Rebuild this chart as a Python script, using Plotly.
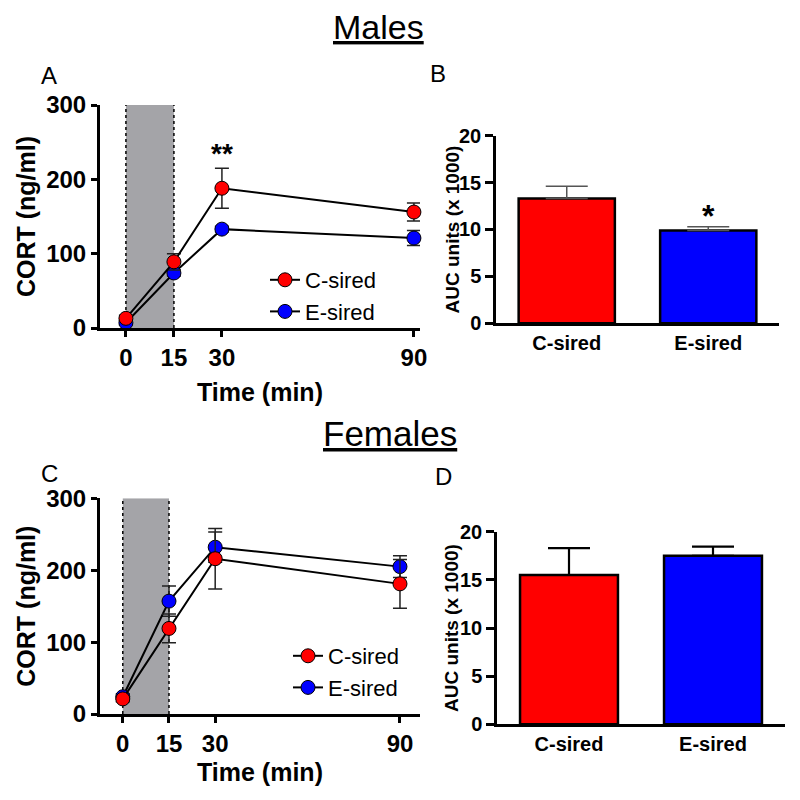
import plotly.graph_objects as go

# ---- data ----
time_min = [0, 15, 30, 90]
time_ticks = ["0", "15", "30", "90"]

male_c_mean = [13, 89, 188, 156]
male_c_sem = [4, 11, 27, 12]
male_e_mean = [7, 74, 133, 121]
male_e_sem = [3, 4, 4, 10]

female_c_mean = [21, 119, 216, 181]
female_c_sem = [4, 20, 42, 34]
female_e_mean = [24, 157, 232, 205]
female_e_sem = [4, 21, 21, 15]

groups = ["C-sired", "E-sired"]
male_auc = [13.3, 9.9]
male_auc_sem = [1.3, 0.4]
female_auc = [15.5, 17.5]
female_auc_sem = [2.8, 0.95]

stress_window = [0, 15]

FONT = "Liberation Sans, Arial, sans-serif"
RED = "#ff0000"
BLUE = "#0000ff"

fig = go.Figure()


def line_traces(xa, ya, c_mean, c_sem, e_mean, e_sem, legend):
    # E-sired first so C-sired sits on top
    for name, mean, sem, col, rank in [
        ("E-sired", e_mean, e_sem, BLUE, 2),
        ("C-sired", c_mean, c_sem, RED, 1),
    ]:
        fig.add_trace(go.Scatter(
            x=time_min, y=mean, name=name, mode="lines+markers",
            xaxis=xa, yaxis=ya, legend=legend, legendrank=rank,
            line=dict(color="black", width=2),
            marker=dict(color=col, size=14, line=dict(color="black", width=1)),
            error_y=dict(type="data", array=sem, visible=True,
                         color="#222222", thickness=1.5, width=7),
            cliponaxis=False,
        ))


def bar_traces(xa, ya, vals, sems, errcol, errw):
    fig.add_trace(go.Bar(
        x=groups, y=vals, xaxis=xa, yaxis=ya, showlegend=False,
        width=0.68,
        marker=dict(color=[RED, BLUE], line=dict(color="black", width=2.5)),
        error_y=dict(type="data", array=sems, arrayminus=[0, 0],
                     symmetric=False, visible=True,
                     color=errcol, thickness=errw, width=21),
    ))


line_traces("x", "y", male_c_mean, male_c_sem, male_e_mean, male_e_sem, "legend")
bar_traces("x2", "y2", male_auc, male_auc_sem, "#555555", 1.5)
line_traces("x3", "y3", female_c_mean, female_c_sem, female_e_mean, female_e_sem, "legend2")
bar_traces("x4", "y4", female_auc, female_auc_sem, "black", 2.2)

tickf = dict(family=FONT, size=24, color="black", weight="bold")
titlef = dict(family=FONT, size=25, color="black", weight="bold")
tickf_b = dict(family=FONT, size=20, color="black", weight="bold")
catf_b = dict(family=FONT, size=20, color="black", weight="bold")
titlef_b = dict(family=FONT, size=19, color="black", weight="bold")

common_line = dict(showline=True, linecolor="black", showgrid=False,
                   zeroline=False, ticks="outside", tickcolor="black",
                   automargin=False)

fig.update_layout(
    width=800, height=800,
    margin=dict(l=0, r=0, t=0, b=0, autoexpand=False),
    paper_bgcolor="white", plot_bgcolor="white",
    showlegend=True,
    # Panel A
    xaxis=dict(domain=[0.125, 0.525], anchor="y", range=[-8.1, 91.9],
               tickvals=time_min, ticktext=time_ticks, tickfont=tickf,
               linewidth=3, ticklen=6, tickwidth=2.5,
               title=dict(text="Time (min)", font=titlef, standoff=14),
               **common_line),
    yaxis=dict(domain=[0.59, 0.86875], anchor="x", range=[0, 300],
               tickvals=[0, 100, 200, 300], tickfont=tickf,
               linewidth=3, ticklen=6, tickwidth=2.5,
               title=dict(text="CORT (ng/ml)", font=titlef, standoff=4),
               **common_line),
    # Panel B
    xaxis2=dict(domain=[0.62, 0.97375], anchor="y2", range=[-0.5, 1.5],
                type="category", tickfont=catf_b, ticks="",
                showline=True, linecolor="black", linewidth=2.5,
                showgrid=False, zeroline=False),
    yaxis2=dict(domain=[0.5959, 0.8304], anchor="x2", range=[0, 20],
                tickvals=[0, 5, 10, 15, 20], tickfont=tickf_b,
                linewidth=2.5, ticklen=8, tickwidth=2.5,
                **common_line),
    # Panel C
    xaxis3=dict(domain=[0.125, 0.525], anchor="y3", range=[-7.4, 96.5],
                tickvals=time_min, ticktext=time_ticks, tickfont=tickf,
                linewidth=3, ticklen=6, tickwidth=2.5,
                title=dict(text="Time (min)", font=titlef, standoff=8),
                **common_line),
    yaxis3=dict(domain=[0.1075, 0.3771], anchor="x3", range=[0, 300],
                tickvals=[0, 100, 200, 300], tickfont=tickf,
                linewidth=3, ticklen=6, tickwidth=2.5,
                title=dict(text="CORT (ng/ml)", font=titlef, standoff=4),
                **common_line),
    # Panel D
    xaxis4=dict(domain=[0.62125, 0.98125], anchor="y4", range=[-0.5, 1.5],
                type="category", tickfont=catf_b, ticks="",
                showline=True, linecolor="black", linewidth=2.5,
                showgrid=False, zeroline=False),
    yaxis4=dict(domain=[0.0946, 0.3354], anchor="x4", range=[0, 20],
                tickvals=[0, 5, 10, 15, 20], tickfont=tickf_b,
                linewidth=2.5, ticklen=8, tickwidth=2.5,
                **common_line),
    legend=dict(x=265 / 800, y=1 - 259 / 800, xanchor="left", yanchor="top",
                font=dict(family=FONT, size=22, color="black"),
                bgcolor="rgba(0,0,0,0)", tracegroupgap=0, itemwidth=30),
    legend2=dict(x=288 / 800, y=1 - 635 / 800, xanchor="left", yanchor="top",
                 font=dict(family=FONT, size=22, color="black"),
                 bgcolor="rgba(0,0,0,0)", tracegroupgap=0, itemwidth=30),
)

# stress window shading with dotted edges
for xa, ya in [("x", "y"), ("x3", "y3")]:
    fig.add_shape(type="rect", xref=xa, yref=ya, x0=stress_window[0], x1=stress_window[1],
                  y0=0, y1=300, fillcolor="#a4a4a8", line=dict(width=0), layer="below")
    for xv in stress_window:
        fig.add_shape(type="line", xref=xa, yref=ya, x0=xv, x1=xv, y0=0, y1=300,
                      line=dict(color="black", width=1.5, dash="dot"), layer="below")

# significance marks
fig.add_annotation(x=30, y=235, xref="x", yref="y", text="**", showarrow=False,
                   font=dict(family=FONT, size=28, color="black", weight="bold"))
fig.add_annotation(x="E-sired", y=11.4, xref="x2", yref="y2", text="*", showarrow=False,
                   font=dict(family=FONT, size=32, color="black", weight="bold"))

# AUC axis titles (placed beside the bar-panel y axes)
for px, yref in [(452, "y2 domain"), (451, "y4 domain")]:
    fig.add_annotation(x=px / 800, y=0.5, xref="paper", yref=yref,
                       xanchor="center", yanchor="middle", textangle=-90,
                       text="AUC units (x 1000)", showarrow=False, font=titlef_b)

# panel letters and section titles
for txt, px, py in [("A", 49, 75), ("B", 438, 73), ("C", 49, 473), ("D", 443, 477)]:
    fig.add_annotation(x=px / 800, y=1 - py / 800, xref="paper", yref="paper",
                       xanchor="center", yanchor="middle",
                       text=txt, showarrow=False,
                       font=dict(family=FONT, size=24, color="black"))
for txt, px, py, fs in [("<u>Males</u>", 378, 27, 34), ("<u>Females</u>", 390, 433, 35)]:
    fig.add_annotation(x=px / 800, y=1 - py / 800, xref="paper", yref="paper",
                       xanchor="center", yanchor="middle",
                       text=txt, showarrow=False,
                       font=dict(family=FONT, size=fs, color="black"))

fig.write_html("out.html",
               config={"displayModeBar": False},
               post_script="document.body.style.margin='0';document.body.style.padding='0';")
